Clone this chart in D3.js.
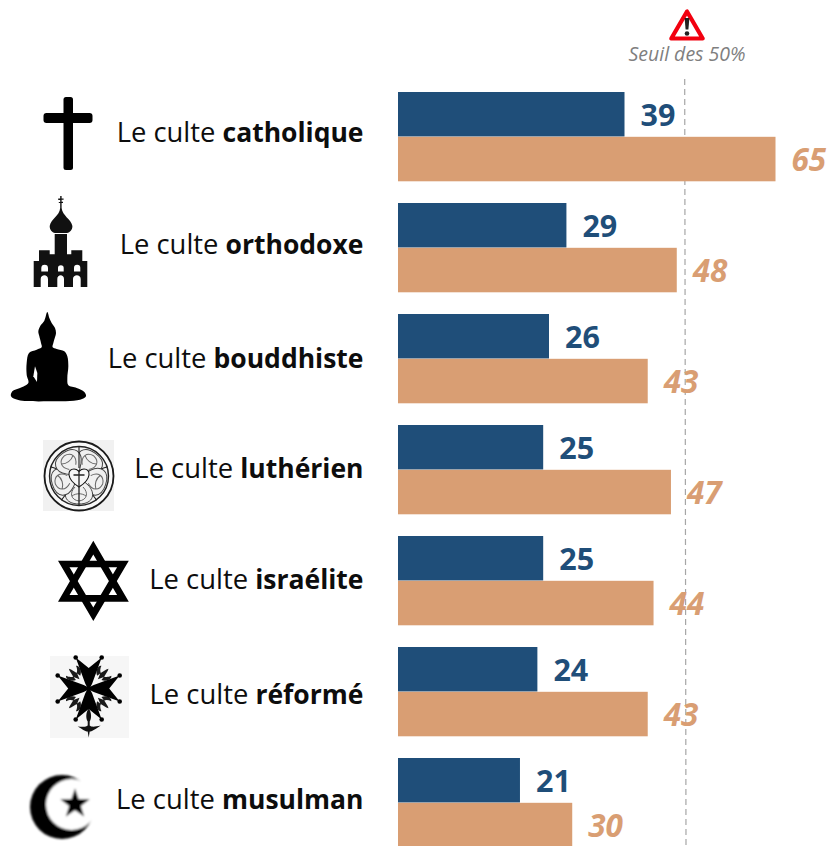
<!DOCTYPE html>
<html><head><meta charset="utf-8">
<script src="https://cdn.jsdelivr.net/npm/d3@7/dist/d3.min.js"></script>
<style>html,body{margin:0;padding:0;background:#fff}svg{display:block}text{font-family:"Open Sans",sans-serif}</style>
</head><body><svg id="c" width="829" height="846"></svg>
<script>
const categories=["catholique","orthodoxe","bouddhiste","luthérien","israélite","réformé","musulman"];
const seriesBlue=[39,29,26,25,25,24,21];
const seriesOrange=[65,48,43,47,44,43,30];
const thresholdLabel="Seuil des 50%";
const labelPrefix="Le culte ";
const BLUE="#1f4e79",ORANGE="#d99e73";
const svg=d3.select("#c");
const x=d3.scaleLinear().domain([0,65]).range([398,775.5]);
const y=d3.scaleBand().domain(categories).range([92,92+111*7]).paddingInner(0).paddingOuter(0);
const lblDy=[-4,-2.5,0.5,-1,-1,3.5,-2.5];
const barH=44.5;

svg.append("line").attr("x1",684.7).attr("x2",686).attr("y1",79).attr("y2",846)
  .attr("stroke","#a6a6a6").attr("stroke-width",1.2).attr("stroke-dasharray","6 4");

const rows=svg.selectAll("g.row").data(categories).join("g").attr("class","row");
rows.append("rect").attr("x",x(0)).attr("y",d=>y(d)).attr("height",barH)
  .attr("width",(d,i)=>x(seriesBlue[i])-x(0)).attr("fill",BLUE);
rows.append("rect").attr("x",x(0)).attr("y",d=>y(d)+barH+0.3).attr("height",barH)
  .attr("width",(d,i)=>x(seriesOrange[i])-x(0)).attr("fill",ORANGE);
rows.append("text").attr("x",(d,i)=>x(seriesBlue[i])+16).attr("y",d=>y(d)+34)
  .attr("font-size",30.5).attr("font-weight",700).attr("fill",BLUE).text((d,i)=>seriesBlue[i]);
rows.append("text").attr("x",(d,i)=>x(seriesOrange[i])+16).attr("y",d=>y(d)+79)
  .attr("font-size",31.5).attr("font-weight",700).attr("font-style","italic").attr("fill",ORANGE).text((d,i)=>seriesOrange[i]);
const lab=rows.append("text").attr("x",363.5).attr("y",(d,i)=>y(d)+barH+9+lblDy[i])
  .attr("text-anchor","end").attr("fill","#0d0d0d");
lab.append("tspan").attr("font-size",27.4).text(labelPrefix);
lab.append("tspan").attr("font-size",26.5).attr("font-weight",700).text(d=>d);

// warning
svg.append("path").attr("d","M687 11.5 L671.3 38.5 L702.7 38.5 Z").attr("fill","#fff")
  .attr("stroke","#f2000f").attr("stroke-width",4.2).attr("stroke-linejoin","round");
svg.append("path").attr("d","M684.6 18 h4.8 l-1 11.5 h-2.8 Z").attr("fill","#222");
svg.append("circle").attr("cx",687).attr("cy",33.5).attr("r",2.3).attr("fill","#222");
svg.append("text").attr("x",687).attr("y",61).attr("text-anchor","middle").attr("font-size",19.5)
  .attr("font-style","italic").attr("fill","#7f7f7f").text(thresholdLabel);

const ic=svg.append("g").attr("fill","#000");
// cross
ic.append("rect").attr("x",63.5).attr("y",97).attr("width",9.5).attr("height",73).attr("rx",2.5);
ic.append("rect").attr("x",43.5).attr("y",113).attr("width",49).attr("height",10).attr("rx",3);
// church
ic.append("path").attr("fill","#111").attr("d",`M60.2 196v2.5h-2v1.4h2v2h-1.4v1.2h1.4v5C59.5 216 51 219 49.7 226 C49.7 230 52 232.5 55 233 H67 C70 232.5 72.4 230 72.4 226 C71 219 62.5 216 61.6 208v-5h1.4v-1.2h-1.4v-2h2v-1.4h-2V196Z
M54.7 234H67V254.3H71.3V250.3H82.3V261H87.3V287H80.7V279C80.7 274 73 274 73 279V287H64V279C64 274 57.3 274 57.3 279V287H48V279C48 274 40.7 274 40.7 279V287H33.7V261H39V250.3H49.7V254.3H54.7Z`);
[[41.3,6.7],[58,5.7],[74,6.3]].forEach(a=>ic.append("path").attr("fill","#fff").attr("d",`M${a[0]} 271.5v-3.5a${a[1]/2} ${a[1]/2} 0 0 1 ${a[1]} 0v3.5Z`));
// buddha
const bz=[[127,12],[133,30],[140,45],[150,60],[153,75],[150,88],[145,105],[143,118],[155,123],[178,130],[187,145],[190,175],[187,210],[190,232],[215,240],[238,252],[243,265],[225,275],[130,280],[40,276],[18,265],[22,250],[45,240],[70,225],[65,200],[65,165],[72,135],[95,125],[110,118],[108,105],[103,85],[100,70],[107,52],[118,38]];
ic.append("path").attr("d",d3.line().curve(d3.curveCatmullRomClosed.alpha(.5))(bz.map(p=>[5+p[0]/3,308+p[1]/3])));
ic.append("path").attr("fill","#fff").attr("d",d3.line()([[90,175],[85,205],[96,222],[97,195]].map(p=>[5+p[0]/3,308+p[1]/3]))+"Z");
// luther rose
const lr=svg.append("g").attr("transform","translate(79,476)");
lr.append("rect").attr("x",-36).attr("y",-36).attr("width",71).attr("height",71).attr("fill","#f1f1f1");
lr.append("circle").attr("r",34.5).attr("fill","#f9f9f9").attr("stroke","#1a1a1a").attr("stroke-width",1.8);
lr.append("circle").attr("r",29.5).attr("fill","#f2f2f2").attr("stroke","#222").attr("stroke-width",1.4);
for(let k=0;k<5;k++){
  const g=lr.append("g").attr("transform",`rotate(${k*72+36})`);
  g.append("path").attr("d","M0 -28 C15 -28 17 -17 9 -9 L0 -1 L-9 -9 C-17 -17 -15 -28 0 -28Z").attr("fill","#f0f0f0").attr("stroke","#444").attr("stroke-width",1);
  g.append("path").attr("d","M0 -25 C8 -24 10 -17 4 -11 M0 -25 C-8 -24 -10 -17 -4 -11 M-7 -20 C-3 -17 3 -17 7 -20").attr("fill","none").attr("stroke","#666").attr("stroke-width",1);
  g.append("line").attr("y1",-30).attr("y2",-8).attr("stroke","#1a1a1a").attr("stroke-width",1.1).attr("transform","rotate(36)");
}
lr.append("path").attr("d","M0 11 C-13 3 -12 -7 -5 -7 C-2 -7 -1 -5.5 0 -4.5 C1 -5.5 2 -7 5 -7 C12 -7 13 3 0 11Z").attr("fill","#f6f6f6").attr("stroke","#111").attr("stroke-width",1.1);
lr.append("path").attr("d","M-5.5 -1H5.5M0 -6V30").attr("stroke","#222").attr("stroke-width",1.3);
// star of david
ic.append("path").attr("fill-rule","evenodd").attr("d",`M93.3 540.7L128.8 601.7H58Z M93.3 554.5L69.5 595H117.1Z`);
ic.append("path").attr("fill-rule","evenodd").attr("d",`M93.3 621L128.8 560.7H58Z M93.3 607.5L117.1 567.3H69.5Z`);
// huguenot
svg.append("rect").attr("x",50).attr("y",656).attr("width",79).attr("height",82).attr("fill","#f6f6f6");
const hu=svg.append("g").attr("transform","translate(88.7,688.5)");
const fleur="M0 -13L-2.6 -19L-1 -26L0 -28L1 -26L2.6 -19Z M-3 -15C-8 -17 -10 -23 -7 -25C-6 -22 -4 -20 -2.4 -19.5Z M3 -15C8 -17 10 -23 7 -25C6 -22 4 -20 2.4 -19.5Z";
[45,135,225,315].forEach(a=>hu.append("path").attr("transform",`rotate(${a})`).attr("d",fleur).attr("fill","#1a1a1a"));
for(let k=0;k<4;k++){
  const g=hu.append("g").attr("transform",`rotate(${k*90})`);
  g.append("path").attr("d","M0 2 L-3.5 -5 L-13 -31 L0 -20.5 L13 -31 L3.5 -5Z").attr("fill","#000");
  g.append("circle").attr("cx",-13).attr("cy",-31).attr("r",2.3).attr("fill","#000");
  g.append("circle").attr("cx",13).attr("cy",-31).attr("r",2.3).attr("fill","#000");
}
hu.append("path").attr("d","M0 20 C-3 24 -3 30 -1 33 L-1 37 C-3 39 -7 38 -11 38 C-6 41 -3 43 -1 43 L0 49 L1 43 C3 43 6 41 12 37 C7 38 3 39 1 37 L1 33 C3 30 3 24 0 20Z").attr("fill","#111");
// crescent
svg.append("defs").append("filter").attr("id","soft").append("feGaussianBlur").attr("stdDeviation",.8);
const cr=svg.append("g").attr("filter","url(#soft)");
cr.append("circle").attr("cx",62).attr("cy",807).attr("r",32).attr("fill","#000");
cr.append("circle").attr("cx",71.5).attr("cy",804.5).attr("r",25.5).attr("fill","#fff");
const star=d3.range(10).map(i=>{const r=i%2?6.2:15.5,a=i*Math.PI/5;return [r*Math.sin(a),-r*Math.cos(a)];});
cr.append("path").attr("transform","translate(75,804)").attr("d",d3.line()(star)+"Z").attr("fill","#000");
</script></body></html>
